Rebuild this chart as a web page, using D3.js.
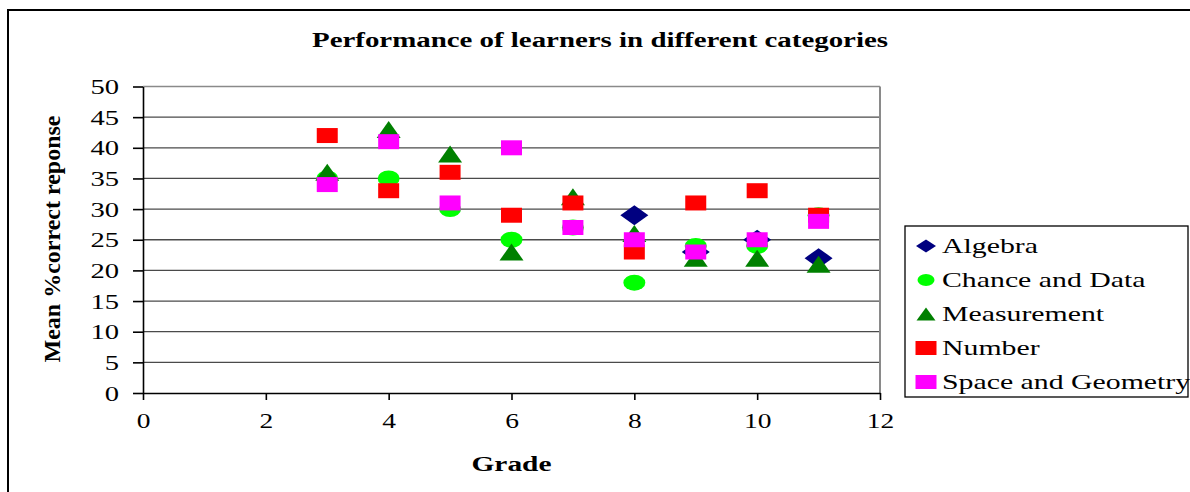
<!DOCTYPE html>
<html>
<head>
<meta charset="utf-8">
<script src="https://cdn.jsdelivr.net/npm/d3@7"></script>
<style>
  body { margin: 0; background: #fff; }
  svg text { font-family: "Liberation Serif", "Times New Roman", serif; fill: #000; }
  .ytick text { transform-box: fill-box; transform-origin: 100% 50%; transform: scaleX(1.3); }
  .xtick text { transform-box: fill-box; transform-origin: 50% 50%; transform: scaleX(1.25); }
  .legend text { transform-box: fill-box; transform-origin: 0% 50%; transform: scaleX(1.42); }
</style>
</head>
<body>
<script>
/*** DATA ***/
let grades = [3, 4, 5, 6, 7, 8, 9, 10, 11];
let algebraGrades = [8, 9, 10, 11];
let algebra = [29, 23, 25, 22];
let chance = [35, 35, 30, 25, 27, 18, 24, 24, 29];
let measurement = [36, 43, 39, 23, 32, 26, 22, 22, 21];
let number = [42, 33, 36, 29, 31, 23, 31, 33, 29];
let space = [34, 41, 31, 40, 27, 25, 23, 25, 28];
let xTicks = [0, 2, 4, 6, 8, 10, 12];
let yTicks = [0, 5, 10, 15, 20, 25, 30, 35, 40, 45, 50];

let series = [
  { name: "Algebra", shape: "diamond", color: "#000080", x: algebraGrades, y: algebra },
  { name: "Chance and Data", shape: "ellipse", color: "#00ff00", x: grades, y: chance },
  { name: "Measurement", shape: "triangle", color: "#008000", x: grades, y: measurement },
  { name: "Number", shape: "rect", color: "#ff0000", x: grades, y: number },
  { name: "Space and Geometry", shape: "rect", color: "#ff00ff", x: grades, y: space }
];

/*** GRAPH ***/
let W = 1190, H = 492;
let plot = { left: 143, right: 880, top: 86.5, bottom: 393 };
let serif = "'Liberation Serif', 'Times New Roman', serif";

let x = d3.scaleLinear().domain([0, 12]).range([plot.left, plot.right]);
let y = d3.scaleLinear().domain([0, 50]).range([plot.bottom, plot.top]);

let svg = d3.select("body").append("svg")
  .attr("width", W)
  .attr("height", H)
  .attr("font-family", serif);

/* cadre extérieur */
svg.append("rect")
  .attr("x", 8).attr("y", 10)
  .attr("width", 1300).attr("height", 600)
  .attr("fill", "#fff")
  .attr("stroke", "#000")
  .attr("stroke-width", 2);

/* titre */
svg.append("text")
  .attr("x", 600).attr("y", 47)
  .attr("text-anchor", "middle")
  .attr("textLength", 576)
  .attr("lengthAdjust", "spacingAndGlyphs")
  .style("font-size", "20px")
  .style("font-weight", "bold")
  .text("Performance of learners in different categories");

/* grille */
svg.append("g")
  .selectAll("line")
  .data(yTicks.filter(d => d > 0))
  .enter().append("line")
  .attr("x1", plot.left).attr("x2", plot.right)
  .attr("y1", d => y(d)).attr("y2", d => y(d))
  .attr("stroke", d => d === 50 ? "#8a8a8a" : "#4a4a4a")
  .attr("stroke-width", 1.3);

svg.append("line")
  .attr("x1", plot.right).attr("x2", plot.right)
  .attr("y1", plot.top).attr("y2", plot.bottom)
  .attr("stroke", "#8a8a8a")
  .attr("stroke-width", 2);

/* axe y */
let yAxis = svg.append("g")
  .attr("class", "ytick")
  .attr("transform", "translate(" + plot.left + ",0)")
  .call(d3.axisLeft(y).tickValues(yTicks).tickSize(10).tickPadding(14).tickSizeOuter(0))
  .attr("font-family", serif)
  .attr("font-size", null);
yAxis.selectAll("text").style("font-size", "22px").style("font-family", serif);
yAxis.selectAll("path, line").attr("stroke", "#000").attr("stroke-width", 1.6);

/* axe x */
let xAxis = svg.append("g")
  .attr("class", "xtick")
  .attr("transform", "translate(0," + plot.bottom + ")")
  .call(d3.axisBottom(x).tickValues(xTicks).tickSize(7).tickPadding(12).tickSizeOuter(0))
  .attr("font-family", serif)
  .attr("font-size", null);
xAxis.selectAll("text").style("font-size", "22px").style("font-family", serif);
xAxis.selectAll("path, line").attr("stroke", "#000").attr("stroke-width", 1.6);

/* titres des axes */
svg.append("text")
  .attr("x", (plot.left + plot.right) / 2).attr("y", 471)
  .attr("text-anchor", "middle")
  .attr("textLength", 80)
  .attr("lengthAdjust", "spacingAndGlyphs")
  .style("font-size", "20px")
  .style("font-weight", "bold")
  .text("Grade");

svg.append("text")
  .attr("transform", "translate(60,239) rotate(-90) scale(1,1.25)")
  .attr("text-anchor", "middle")
  .attr("textLength", 247)
  .attr("lengthAdjust", "spacingAndGlyphs")
  .style("font-size", "18px")
  .style("font-weight", "bold")
  .text("Mean %correct reponse");

/* formes des marqueurs */
function marker(shape, w, h) {
  let a = w / 2, b = h / 2;
  if (shape === "diamond") return "M0," + (-b) + "L" + a + ",0L0," + b + "L" + (-a) + ",0Z";
  if (shape === "triangle") return "M0," + (-b) + "L" + a + "," + b + "L" + (-a) + "," + b + "Z";
  if (shape === "ellipse") return "M" + (-a) + ",0A" + a + "," + b + " 0 1,0 " + a + ",0A" + a + "," + b + " 0 1,0 " + (-a) + ",0Z";
  return "M" + (-a) + "," + (-b) + "H" + a + "V" + b + "H" + (-a) + "Z";
}
let plotSize = { diamond: [28, 20], ellipse: [22, 16], triangle: [24, 17], rect: [21, 15] };
let legendSize = { diamond: [20, 13], ellipse: [17, 12], triangle: [19, 13], rect: [21, 14] };

/* points */
series.forEach(s => {
  svg.append("g")
    .selectAll("path")
    .data(s.y.map((v, i) => ({ g: s.x[i], v: v })))
    .enter().append("path")
    .attr("transform", d => "translate(" + x(d.g) + "," + y(d.v) + ")")
    .attr("d", marker(s.shape, plotSize[s.shape][0], plotSize[s.shape][1]))
    .attr("fill", s.color);
});

/* légende */
svg.append("rect")
  .attr("x", 905).attr("y", 226)
  .attr("width", 283).attr("height", 171)
  .attr("fill", "#fff")
  .attr("stroke", "#000")
  .attr("stroke-width", 1.3);

let legend = svg.selectAll(".legend")
  .data(series)
  .enter().append("g")
  .attr("class", "legend")
  .attr("transform", (d, i) => "translate(926," + (246 + i * 34) + ")");

legend.append("path")
  .attr("d", d => marker(d.shape, legendSize[d.shape][0], legendSize[d.shape][1]))
  .attr("fill", d => d.color);

legend.append("text")
  .attr("x", 16)
  .attr("dy", "0.35em")
  .style("font-size", "21px")
  .text(d => d.name);
</script>
</body>
</html>
